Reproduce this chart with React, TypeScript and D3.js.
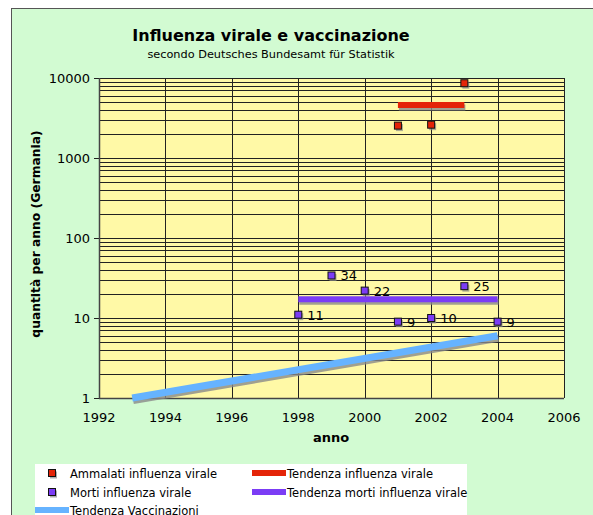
import React from "react";
import * as d3 from "d3";

const morbYears = [2001, 2002, 2003];
const morbValues = [2540, 2610, 8600];
const morbTrendYears = [2001, 2003];
const morbTrendValues = [4600, 4600];

const deathYears = [1998, 1999, 2000, 2001, 2002, 2003, 2004];
const deathValues = [11, 34, 22, 9, 10, 25, 9];
const deathTrendYears = [1998, 2004];
const deathTrendValues = [17.1, 17.1];

const vaccTrendYears = [1993, 2004];
const vaccTrendValues = [1, 6];

const xTicks = [1992, 1994, 1996, 1998, 2000, 2002, 2004, 2006];
const yTicks = [1, 10, 100, 1000, 10000];

const W = 593, H = 515;
const FONT = "'DejaVu Sans', Verdana, sans-serif";
const RED = "#E42408";
const PURPLE = "#7B3CF5";
const BLUE = "#66B3FF";
const SHADOW = "#8a8a8a";

export default function App() {
  const x = d3.scaleLinear().domain([1992, 2006]).range([99, 564]);
  const y = d3.scaleLog().domain([1, 10000]).range([398, 78]);
  const line = (xs: number[], ys: number[]) =>
    d3.line<number>().x((d, i) => x(xs[i])).y((d) => y(d))(ys) || "";

  const minor: number[] = [];
  for (let p = 0; p < 4; p++) for (let m = 2; m <= 9; m++) minor.push(m * Math.pow(10, p));

  const marker = (cx: number, cy: number, fill: string, key: string) => (
    <g key={key}>
      <rect x={cx - 3.5 + 1.5} y={cy - 3.5 + 2} width={7} height={7} fill={SHADOW} opacity={0.7} />
      <rect x={cx - 3.5} y={cy - 3.5} width={7} height={7} fill={fill} stroke="#111" strokeWidth={1} />
    </g>
  );

  const trend = (xs: number[], ys: number[], color: string, w: number, key: string) => (
    <g key={key}>
      <path d={line(xs, ys)} transform="translate(1,2.5)" stroke={SHADOW} strokeWidth={w} fill="none" opacity={0.8} />
      <path d={line(xs, ys)} stroke={color} strokeWidth={w} fill="none" />
    </g>
  );

  return (
    <svg width={W} height={H} style={{ position: "absolute", left: 0, top: 0 }} fontFamily={FONT}>
      <rect x={0} y={0} width={W} height={H} fill="#fff" />
      <rect x={11.5} y={8.5} width={W + 10} height={H + 10} fill="#D2FBD2" stroke="#555" strokeWidth={1} />
      <text x={271} y={41} textAnchor="middle" fontSize={16} fontWeight="bold" fill="#000">
        Influenza virale e vaccinazione
      </text>
      <text x={271} y={58} textAnchor="middle" fontSize={11.3} fill="#000">
        secondo Deutsches Bundesamt für Statistik
      </text>

      <rect x={99} y={78} width={465} height={320} fill="#FFF9A6" />
      {minor.map((v) => (
        <line key={"m" + v} x1={99} x2={564} y1={Math.round(y(v)) + 0.5} y2={Math.round(y(v)) + 0.5} stroke="#222" strokeWidth={1} />
      ))}
      {yTicks.map((v) => (
        <g key={"y" + v}>
          <line x1={94} x2={564} y1={Math.round(y(v)) + 0.5} y2={Math.round(y(v)) + 0.5} stroke="#222" strokeWidth={1} />
          <text x={90} y={y(v) + 5} textAnchor="end" fontSize={13} fill="#000">{v}</text>
        </g>
      ))}
      {xTicks.map((v) => (
        <g key={"x" + v}>
          <line x1={Math.round(x(v)) + 0.5} x2={Math.round(x(v)) + 0.5} y1={78} y2={398} stroke="#222" strokeWidth={1} />
          <text x={x(v)} y={422} textAnchor="middle" fontSize={13} fill="#000">{v}</text>
        </g>
      ))}
      <line x1={99.5} x2={99.5} y1={78} y2={398} stroke="#444" strokeWidth={1.5} />
      <line x1={99} x2={564} y1={398.5} y2={398.5} stroke="#444" strokeWidth={1.5} />

      <text x={331} y={442} textAnchor="middle" fontSize={13} fontWeight="bold" fill="#000">anno</text>
      <text transform="translate(40,234) rotate(-90)" textAnchor="middle" fontSize={12.3} fontWeight="bold" fill="#000">
        quantità per anno (Germania)
      </text>

      {trend(vaccTrendYears, vaccTrendValues, BLUE, 7, "vt")}
      {trend(deathTrendYears, deathTrendValues, PURPLE, 6, "dt")}
      {trend(morbTrendYears, morbTrendValues, RED, 6, "mt")}

      {morbYears.map((yr, i) => marker(x(yr), y(morbValues[i]), RED, "r" + i))}
      {deathYears.map((yr, i) => (
        <g key={"d" + i}>
          {marker(x(yr), y(deathValues[i]), PURPLE, "dm" + i)}
          <text x={x(yr) + 9} y={y(deathValues[i]) + 5} fontSize={13} fill="#000">{deathValues[i]}</text>
        </g>
      ))}

      <rect x={35} y={464} width={432} height={60} fill="#fff" />
      {marker(52, 473, RED, "lr")}
      <text x={70} y={477.5} fontSize={11.5} fill="#000">Ammalati influenza virale</text>
      {marker(52, 492, PURPLE, "lp")}
      <text x={70} y={496.5} fontSize={11.5} fill="#000">Morti influenza virale</text>
      <line x1={35} x2={69} y1={510} y2={510} stroke={BLUE} strokeWidth={6} />
      <text x={70} y={514.5} fontSize={11.5} fill="#000">Tendenza Vaccinazioni</text>
      <line x1={252} x2={286} y1={473} y2={473} stroke={RED} strokeWidth={6} />
      <text x={287} y={477.5} fontSize={11.5} fill="#000">Tendenza influenza virale</text>
      <line x1={252} x2={286} y1={492} y2={492} stroke={PURPLE} strokeWidth={6} />
      <text x={287} y={496.5} fontSize={11.5} fill="#000">Tendenza morti influenza virale</text>
    </svg>
  );
}
